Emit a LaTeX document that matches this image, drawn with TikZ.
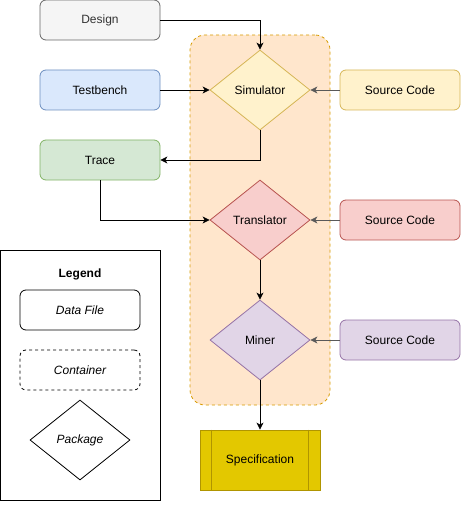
\documentclass[tikz,border=0pt]{standalone}
\usepackage{fontspec}
\setmainfont{Liberation Sans}
\usetikzlibrary{arrows.meta,shapes.geometric}
\definecolor{greyFill}{HTML}{F5F5F5}
\definecolor{greyLine}{HTML}{666666}
\definecolor{greyText}{HTML}{333333}
\definecolor{blueFill}{HTML}{DAE8FC}
\definecolor{blueLine}{HTML}{6C8EBF}
\definecolor{greenFill}{HTML}{D5E8D4}
\definecolor{greenLine}{HTML}{82B366}
\definecolor{orangeFill}{HTML}{FFE6CC}
\definecolor{orangeLine}{HTML}{D79B00}
\definecolor{yellowFill}{HTML}{FFF2CC}
\definecolor{yellowLine}{HTML}{D6B656}
\definecolor{redFill}{HTML}{F8CECC}
\definecolor{redLine}{HTML}{B85450}
\definecolor{purpleFill}{HTML}{E1D5E7}
\definecolor{purpleLine}{HTML}{9673A6}
\definecolor{specFill}{HTML}{E3C800}
\definecolor{specLine}{HTML}{B09500}
\begin{document}
\begin{tikzpicture}[x=1pt, y=-1pt,
  file/.style={rounded corners=6pt, line width=0.8pt, minimum width=120pt, minimum height=40pt, align=center, font=\fontsize{12}{14}\selectfont},
  pkg/.style={diamond, aspect=1.25, line width=0.8pt, minimum width=100pt, minimum height=80pt, inner sep=0pt, align=center, font=\fontsize{12}{14}\selectfont},
  arr/.style={-{Stealth[length=7pt, width=7pt, inset=2pt]}, line width=0.8pt, black},
  srcarr/.style={arr, black!65}]
\useasboundingbox (0,0) rectangle (461,513);
% tool container
\node[draw=orangeLine, fill=orangeFill, dashed, rounded corners=15pt, line width=0.8pt, minimum width=140pt, minimum height=370pt] (tools) at (260,220) {};
% inputs
\node[file, draw=greyLine, fill=greyFill, text=greyText] (design) at (100,20) {Design};
\node[file, draw=blueLine, fill=blueFill] (tb) at (100,90) {Testbench};
\node[file, draw=greenLine, fill=greenFill] (trace) at (100,160) {Trace};
% packages
\node[pkg, draw=yellowLine, fill=yellowFill] (sim) at (260,90) {Simulator};
\node[pkg, draw=redLine, fill=redFill] (trans) at (260,220) {Translator};
\node[pkg, draw=purpleLine, fill=purpleFill] (miner) at (260,340) {Miner};
% source code
\node[file, draw=yellowLine, fill=yellowFill] (srcSim) at (400,90) {Source Code};
\node[file, draw=redLine, fill=redFill] (srcTrans) at (400,220) {Source Code};
\node[file, draw=purpleLine, fill=purpleFill] (srcMiner) at (400,340) {Source Code};
% output
\node[draw=specLine, fill=specFill, line width=0.8pt, minimum width=120pt, minimum height=60pt, font=\fontsize{12}{14}\selectfont] (spec) at (260,460) {Specification};
\draw[specLine, line width=0.8pt] ([xshift=12pt]spec.north west) -- ([xshift=12pt]spec.south west);
\draw[specLine, line width=0.8pt] ([xshift=-12pt]spec.north east) -- ([xshift=-12pt]spec.south east);
% legend
\node[draw=black, line width=0.8pt, minimum width=160pt, minimum height=250pt] (legend) at (80,375) {};
\node[font=\fontsize{12}{14}\selectfont\bfseries] (legTitle) at (80,274) {Legend};
\node[file, draw=black, font=\fontsize{12}{14}\selectfont\itshape] (legFile) at (80,310) {Data File};
\node[file, draw=black, dashed, font=\fontsize{12}{14}\selectfont\itshape] (legCont) at (80,370) {Container};
\node[pkg, draw=black, font=\fontsize{12}{14}\selectfont\itshape] (legPkg) at (80,440) {Package};
% flow
\draw[arr] (design.east) -| (sim.north);
\draw[arr] (tb.east) -- (sim.west);
\draw[srcarr] (srcSim.west) -- (sim.east);
\draw[arr] (sim.south) |- (trace.east);
\draw[arr] (trace.south) |- (trans.west);
\draw[srcarr] (srcTrans.west) -- (trans.east);
\draw[arr] (trans.south) -- (miner.north);
\draw[srcarr] (srcMiner.west) -- (miner.east);
\draw[arr] (miner.south) -- (spec.north);
\end{tikzpicture}
\end{document}
